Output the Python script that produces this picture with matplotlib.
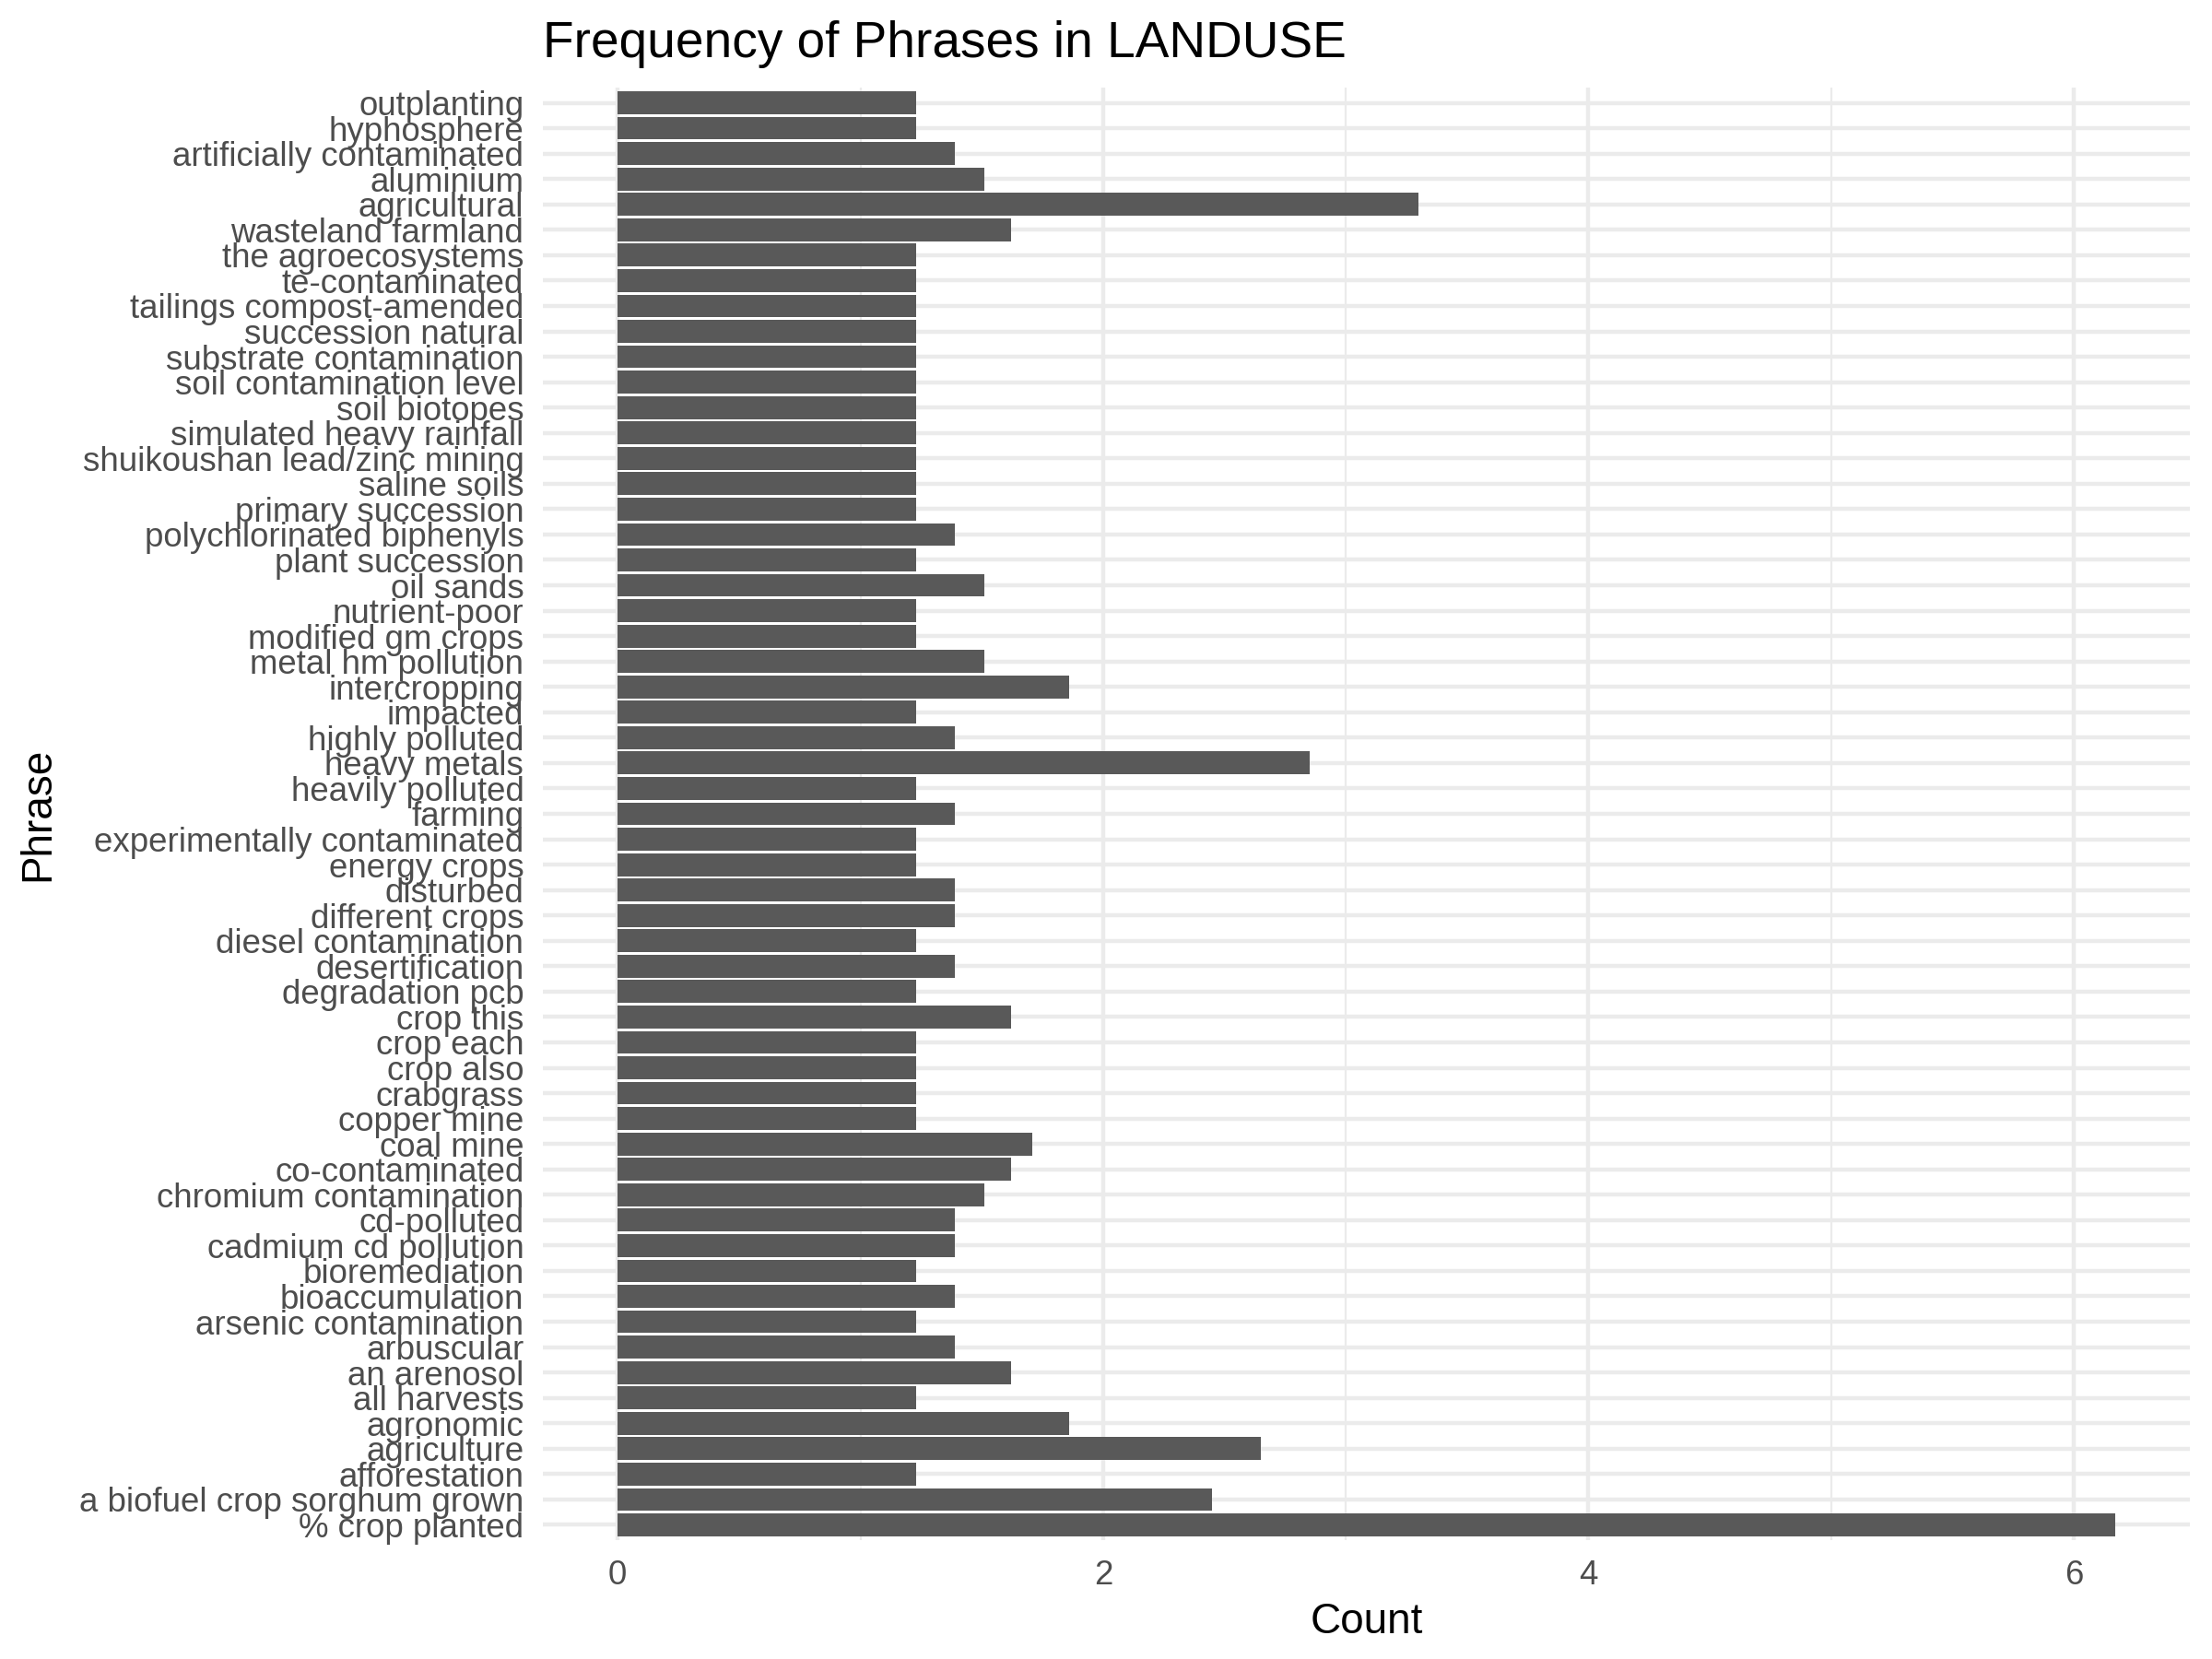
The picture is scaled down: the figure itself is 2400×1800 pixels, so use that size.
import matplotlib
matplotlib.use("Agg")
import matplotlib.pyplot as plt

plt.rcParams['font.family'] = ['Liberation Sans', 'DejaVu Sans']

# phrases listed bottom to top (as drawn)
phrases = [
    "% crop planted", "a biofuel crop sorghum grown", "afforestation", "agriculture",
    "agronomic", "all harvests", "an arenosol", "arbuscular", "arsenic contamination",
    "bioaccumulation", "bioremediation", "cadmium cd pollution", "cd-polluted",
    "chromium contamination", "co-contaminated", "coal mine", "copper mine",
    "crabgrass", "crop also", "crop each", "crop this", "degradation pcb",
    "desertification", "diesel contamination", "different crops", "disturbed",
    "energy crops", "experimentally contaminated", "farming", "heavily polluted",
    "heavy metals", "highly polluted", "impacted", "intercropping",
    "metal hm pollution", "modified gm crops", "nutrient-poor", "oil sands",
    "plant succession", "polychlorinated biphenyls", "primary succession",
    "saline soils", "shuikoushan lead/zinc mining", "simulated heavy rainfall",
    "soil biotopes", "soil contamination level", "substrate contamination",
    "succession natural", "tailings compost-amended", "te-contaminated",
    "the agroecosystems", "wasteland farmland", "agricultural", "aluminium",
    "artificially contaminated", "hyphosphere", "outplanting",
]
counts = [
    6.17, 2.45, 1.23, 2.65,
    1.86, 1.23, 1.62, 1.39, 1.23,
    1.39, 1.23, 1.39, 1.39,
    1.51, 1.62, 1.71, 1.23,
    1.23, 1.23, 1.23, 1.62, 1.23,
    1.39, 1.23, 1.39, 1.39,
    1.23, 1.23, 1.39, 1.23,
    2.85, 1.39, 1.23, 1.86,
    1.51, 1.23, 1.23, 1.51,
    1.23, 1.39, 1.23,
    1.23, 1.23, 1.23,
    1.23, 1.23, 1.23,
    1.23, 1.23, 1.23,
    1.23, 1.62, 3.30, 1.51,
    1.39, 1.23, 1.23,
]
x_ticks = [0, 2, 4, 6]
minor_ticks = [1, 3, 5]

fig = plt.figure(figsize=(8, 6), dpi=300)
ax = fig.add_axes([589 / 2400, 1 - 1671 / 1800, (2376 - 589) / 2400, (1671 - 95) / 1800])

ypos = list(range(1, len(phrases) + 1))
ax.barh(ypos, counts, height=0.9, color='#595959', zorder=3)

xmax = max(counts)
ax.set_xlim(-0.05 * xmax, xmax * 1.05)
ax.set_ylim(0.4, len(phrases) + 0.6)

ax.set_yticks(ypos)
ax.set_yticklabels(phrases)
ax.set_xticks(x_ticks)
ax.set_xticks(minor_ticks, minor=True)

# grid like theme_minimal
for v in x_ticks:
    ax.axvline(v, color='#EBEBEB', lw=1.07, zorder=1)
for v in minor_ticks:
    ax.axvline(v, color='#EBEBEB', lw=0.53, zorder=1)
for y in ypos:
    ax.axhline(y, color='#EBEBEB', lw=1.07, zorder=1)

for s in ax.spines.values():
    s.set_visible(False)
ax.tick_params(axis='both', which='both', length=0, labelsize=8.8, labelcolor='#4D4D4D', pad=4.95)

ax.set_xlabel('Count', fontsize=11, color='black', labelpad=2.75)
ax.set_ylabel('Phrase', fontsize=11, color='black', labelpad=5.5)
ax.set_title('Frequency of Phrases in LANDUSE', fontsize=13.2, color='black', loc='left', pad=8)

fig.savefig('out.png', dpi=300, facecolor='white')
